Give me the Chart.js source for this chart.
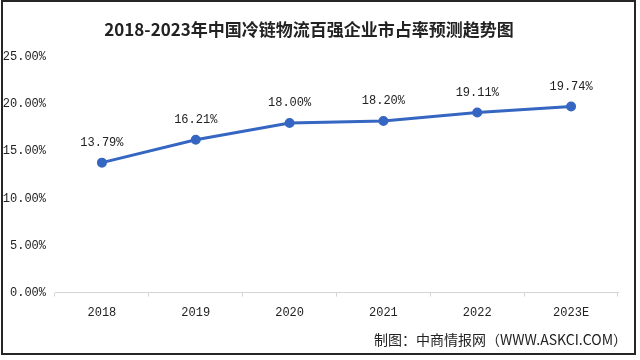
<!DOCTYPE html>
<html>
<head>
<meta charset="utf-8">
<script src="https://cdn.jsdelivr.net/npm/chart.js@4.4.0/dist/chart.umd.min.js"></script>
<style>
    html, body { margin: 0; padding: 0; background: #fff; }
    #wrap { position: relative; width: 640px; height: 360px; }
    #frame { position: absolute; left: 1px; top: 0; width: 631px; height: 351px; border: 2px solid #262626; pointer-events: none; }
</style>
</head>
<body>
<div id="wrap">
    <canvas id="myChart" width="640" height="360"></canvas>
    <div id="frame"></div>
</div>
<script>
const titleText = "2018-2023年中国冷链物流百强企业市占率预测趋势图";
const footerText = "制图：中商情报网（WWW.ASKCI.COM）";
const years = ["2018", "2019", "2020", "2021", "2022", "2023E"];
const shareValues = [13.79, 16.21, 18.00, 18.20, 19.11, 19.74];
const yTicks = [0, 5, 10, 15, 20, 25];

const lineColor = "#3566c2";
const textColor = "#222222";

// value labels above each point
const pointLabels = {
    id: "pointLabels",
    afterDatasetsDraw(chart) {
        const ctx = chart.ctx;
        const meta = chart.getDatasetMeta(0);
        ctx.save();
        ctx.font = "12px 'Liberation Mono'";
        ctx.fillStyle = textColor;
        ctx.textAlign = "center";
        ctx.textBaseline = "middle";
        meta.data.forEach((pt, i) => {
            ctx.fillText(shareValues[i].toFixed(2) + "%", pt.x, pt.y - 20);
        });
        ctx.restore();
    }
};

// source line at the bottom right
const footer = {
    id: "footer",
    afterDraw(chart) {
        const ctx = chart.ctx;
        ctx.save();
        ctx.font = "14px 'Noto Sans CJK SC'";
        ctx.fillStyle = textColor;
        ctx.textAlign = "right";
        ctx.textBaseline = "middle";
        ctx.fillText(footerText, 627, 340);
        ctx.restore();
    }
};

const ctx = document.getElementById("myChart").getContext("2d");
const myChart = new Chart(ctx, {
    type: "line",
    data: {
        labels: years,
        datasets: [
            {
                data: shareValues,
                borderColor: lineColor,
                backgroundColor: lineColor,
                borderWidth: 3,
                pointRadius: 3.5,
                pointHoverRadius: 3.5,
                fill: false,
                tension: 0
            }
        ]
    },
    options: {
        responsive: false,
        animation: false,
        layout: {
            padding: { left: 0, right: 22, top: 0, bottom: 31 }
        },
        plugins: {
            legend: { display: false },
            tooltip: { enabled: false },
            title: {
                display: true,
                text: titleText,
                color: textColor,
                font: { family: "'Noto Sans CJK SC'", size: 17, weight: "bold", lineHeight: 1.2 },
                padding: { top: 19, bottom: 17.6 }
            }
        },
        scales: {
            x: {
                offset: true,
                grid: {
                    display: true,
                    drawOnChartArea: false,
                    drawTicks: true,
                    tickLength: 4,
                    color: "#d4d4d4",
                    offset: true
                },
                border: { display: true, color: "#d4d4d4" },
                ticks: {
                    color: textColor,
                    font: { family: "'Liberation Mono'", size: 12 },
                    padding: 9
                }
            },
            y: {
                min: 0,
                max: 25,
                afterFit(scale) { scale.width = 55; },
                afterBuildTicks(scale) { scale.ticks = yTicks.map(v => ({ value: v })); },
                grid: { display: false, drawTicks: false },
                border: { display: false },
                ticks: {
                    color: textColor,
                    font: { family: "'Liberation Mono'", size: 12 },
                    padding: 9,
                    callback: (v) => v.toFixed(2) + "%"
                }
            }
        }
    },
    plugins: [pointLabels, footer]
});
</script>
</body>
</html>
